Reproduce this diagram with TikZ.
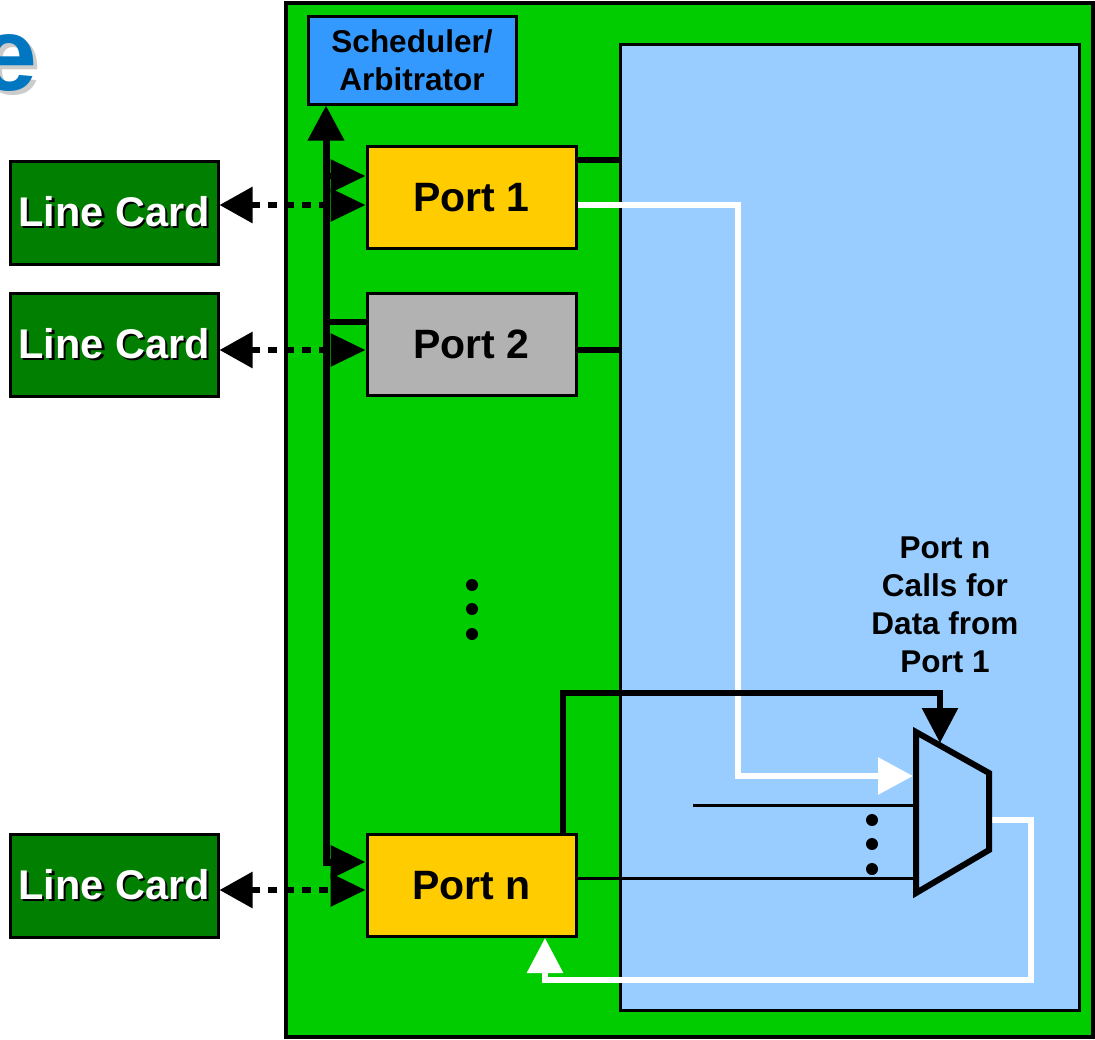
\documentclass[tikz,border=0pt]{standalone}
\usepackage{fontspec}
\setmainfont{Liberation Sans}
\usetikzlibrary{arrows.meta}
\definecolor{chassisgreen}{RGB}{0,204,0}
\definecolor{fabricblue}{RGB}{153,204,255}
\definecolor{cardgreen}{RGB}{0,127,0}
\definecolor{portyellow}{RGB}{255,204,0}
\definecolor{portgray}{RGB}{178,178,178}
\definecolor{schedblue}{RGB}{51,153,255}
\definecolor{titleblue}{RGB}{0,119,192}
\definecolor{titleshadow}{RGB}{204,204,204}
\newcommand\shadowtxt[3]{\makebox[0pt][l]{\hspace{#3}\raisebox{-#3}{\color{#2}#1}}#1}
\begin{document}
\begin{tikzpicture}[x=1pt,y=-1pt,
  boxstyle/.style={draw=black, line width=3, inner sep=0pt},
  portbox/.style={boxstyle, minimum width=209, minimum height=102, font=\fontsize{41}{48}\selectfont\bfseries},
  cardbox/.style={boxstyle, fill=cardgreen, minimum width=208, minimum height=103, font=\fontsize{41.5}{48}\selectfont\bfseries, text=white},
  bline/.style={line width=6, line join=miter},
  thinline/.style={line width=3},
  wline/.style={line width=6, draw=white, line join=miter},
  dotline/.style={line width=6, dash pattern=on 9pt off 8pt},
  tipL/.tip={Triangle[length=33pt, width=35pt]},
  tipR/.tip={Triangle[length=35pt, width=32pt]},
  tipB/.tip={Triangle[length=35pt, width=35pt]},
  dotstyle/.style={fill=black}
]
\useasboundingbox (0,0) rectangle (1095,1039);

% title fragment
\node[anchor=base east, inner sep=0pt, text=titleblue, font=\fontsize{104}{120}\selectfont\bfseries] (title) at (38,90) {\shadowtxt{e}{titleshadow}{4pt}};

% chassis and fabric
\node[draw=black, line width=4, fill=chassisgreen, minimum width=807, minimum height=1034, inner sep=0pt] (chassis) at (689.5,520) {};
\node[draw=black, line width=3, fill=fabricblue, minimum width=459, minimum height=966, inner sep=0pt] (fabric) at (849.5,527) {};

% helper coordinates
\coordinate (bx) at (326,0);
\coordinate (yP1a) at (0,176);
\coordinate (yP1b) at (0,205);
\coordinate (yP1c) at (0,160);
\coordinate (yP2a) at (0,322);
\coordinate (yP2b) at (0,350);
\coordinate (yPna) at (0,862);
\coordinate (yPnb) at (0,890);
\coordinate (yPnc) at (0,878);
\coordinate (m1) at (916,732);
\coordinate (m2) at (989,773);
\coordinate (m3) at (989,850);
\coordinate (m4) at (916,893);
\coordinate (muxin) at (913,776);
\coordinate (whitex) at (738,205);
\coordinate (pntop) at (563,693);
\coordinate (selx) at (940,743);
\coordinate (muxout) at (990,820);
\coordinate (retx) at (1031,980);
\coordinate (retup) at (545,0);
\coordinate (in2) at (693,805);

% nodes
\node[boxstyle, fill=schedblue, minimum width=208, minimum height=88, align=center, font=\fontsize{31.5}{38}\selectfont\bfseries] (sched) at (412,60) {Scheduler/\\Arbitrator};
\node[portbox, fill=portyellow] (p1) at (471.5,197.5) {Port 1};
\node[portbox, fill=portgray] (p2) at (471.5,344.5) {Port 2};
\node[portbox, fill=portyellow] (pn) at (471.5,885.5) {Port n};
\node[cardbox] (lc1) at (114,212.5) {\shadowtxt{Line Card}{black}{2.5pt}};
\node[cardbox] (lc2) at (114,344.5) {\shadowtxt{Line Card}{black}{2.5pt}};
\node[cardbox] (lcn) at (114,885.5) {\shadowtxt{Line Card}{black}{2.5pt}};

% fabric connections
\draw[bline] (p1.east |- yP1c) -- (fabric.west |- yP1c);
\draw[bline] (p2.east |- yP2b) -- (fabric.west |- yP2b);
\draw[wline, -{Triangle[length=35pt, width=36pt, white]}] (p1.east |- yP1b) -| (whitex |- muxin) -- (muxin);
\draw[thinline] (in2) -- (m1 |- in2);
\draw[thinline] (pn.east |- yPnc) -- (m1 |- yPnc);
\draw[wline, -{Triangle[length=35pt, width=35pt, white]}] (muxout) -| (retx) -| (retup |- pn.south);
\draw[bline, -{tipB}] (pntop |- pn.north) |- (pntop -| selx) -- (selx);

% mux
\draw[line width=6, line join=miter, fill=fabricblue] (m1) -- (m2) -- (m3) -- (m4) -- cycle;
\fill[dotstyle] (872,820) circle[radius=6pt];
\fill[dotstyle] (872,844) circle[radius=6pt];
\fill[dotstyle] (872,869) circle[radius=6pt];

% dots between ports
\fill[dotstyle] (472,585) circle[radius=6pt];
\fill[dotstyle] (472,609) circle[radius=6pt];
\fill[dotstyle] (472,634) circle[radius=6pt];

% scheduler bus
\draw[line width=7, line join=miter, {tipB}-{tipR}] (bx |- sched.south) -- (bx |- yPna) -- (pn.west |- yPna);
\draw[bline, -{tipR}] (bx |- yP1a) -- (p1.west |- yP1a);
\draw[bline] (bx |- yP2a) -- (p2.west |- yP2a);

% line card links
\draw[dotline, {tipL}-{tipR}] (lc1.east |- yP1b) -- (p1.west |- yP1b);
\draw[dotline, {tipL}-{tipR}] (lc2.east |- yP2b) -- (p2.west |- yP2b);
\draw[dotline, {tipL}-{tipR}] (lcn.east |- yPnb) -- (pn.west |- yPnb);

% callout
\node[align=center, inner sep=0pt, font=\fontsize{31.5}{38}\selectfont\bfseries] (call) at (945,605) {Port n\\Calls for\\Data from\\Port 1};
\end{tikzpicture}
\end{document}
